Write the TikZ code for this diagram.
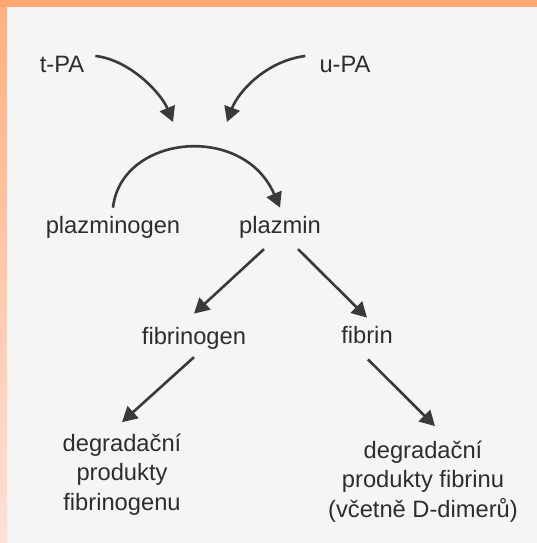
\documentclass[tikz,border=0pt]{standalone}
\usepackage{fontspec}
\setmainfont{Liberation Sans}
\usetikzlibrary{arrows.meta}
\definecolor{bg}{RGB}{245,245,243}
\definecolor{ink}{RGB}{45,45,45}
\definecolor{lineink}{RGB}{58,58,58}
\definecolor{bandtop}{RGB}{255,168,118}
\definecolor{sidetop}{RGB}{255,176,126}
\definecolor{sidebot}{RGB}{255,224,214}
\tikzset{
  lbl/.style={font=\fontsize{23.7}{29.5}\selectfont, text=ink, inner sep=8pt, anchor=base},
  blk/.style={font=\fontsize{23.7}{29.5}\selectfont, text=ink, inner sep=8pt, anchor=base},
  arr/.style={draw=lineink, line width=2.6pt, -{Triangle[length=15pt,width=16pt]}}
}
\begin{document}
\begin{tikzpicture}[x=1pt,y=-1pt]
\useasboundingbox (0,0) rectangle (537,543);
\fill[bg] (0,0) rectangle (537,543);
\shade[top color=sidetop, bottom color=sidebot] (0,0) rectangle (7,543);
\fill[bandtop] (0,0) rectangle (537,7);

\node[lbl] (tpa) at (62,72) {t-PA};
\node[lbl] (upa) at (345,72) {u-PA};
\node[lbl] (plg) at (113,233) {plazminogen};
\node[lbl] (pl) at (280,233) {plazmin};
\node[lbl] (fbg) at (194,344) {fibrinogen};
\node[lbl] (fb) at (367,343) {fibrin};
\node[blk] (dl) at (122,451) {\renewcommand\arraystretch{1}\setlength\tabcolsep{0pt}\begin{tabular}[t]{c}degradační\\produkty\\fibrinogenu\end{tabular}};
\node[blk] (dr) at (423,458) {\renewcommand\arraystretch{1}\setlength\tabcolsep{0pt}\begin{tabular}[t]{c}degradační\\produkty fibrinu\\(včetně D-dimerů)\end{tabular}};

\coordinate (ta) at (173,122);
\coordinate (ua) at (227,122);

\draw[arr] ([xshift=3pt,yshift=8pt]tpa.east) .. controls (130,60) and (161,93) .. (ta);
\draw[arr] ([xshift=-6pt,yshift=8pt]upa.west) .. controls (266,61) and (238,92) .. (ua);
\draw[arr] (plg.north) .. controls (121,135) and (243,122) .. (pl.north);
\draw[arr] ([xshift=-16pt,yshift=-3pt]pl.south) -- ([yshift=5pt]fbg.north);
\draw[arr] ([xshift=18pt,yshift=-3pt]pl.south) -- (fb.north);
\draw[arr] (fbg.south) -- (dl.north);
\draw[arr] ([xshift=1pt,yshift=-8pt]fb.south) -- ([xshift=12pt,yshift=3pt]dr.north);
\end{tikzpicture}
\end{document}
